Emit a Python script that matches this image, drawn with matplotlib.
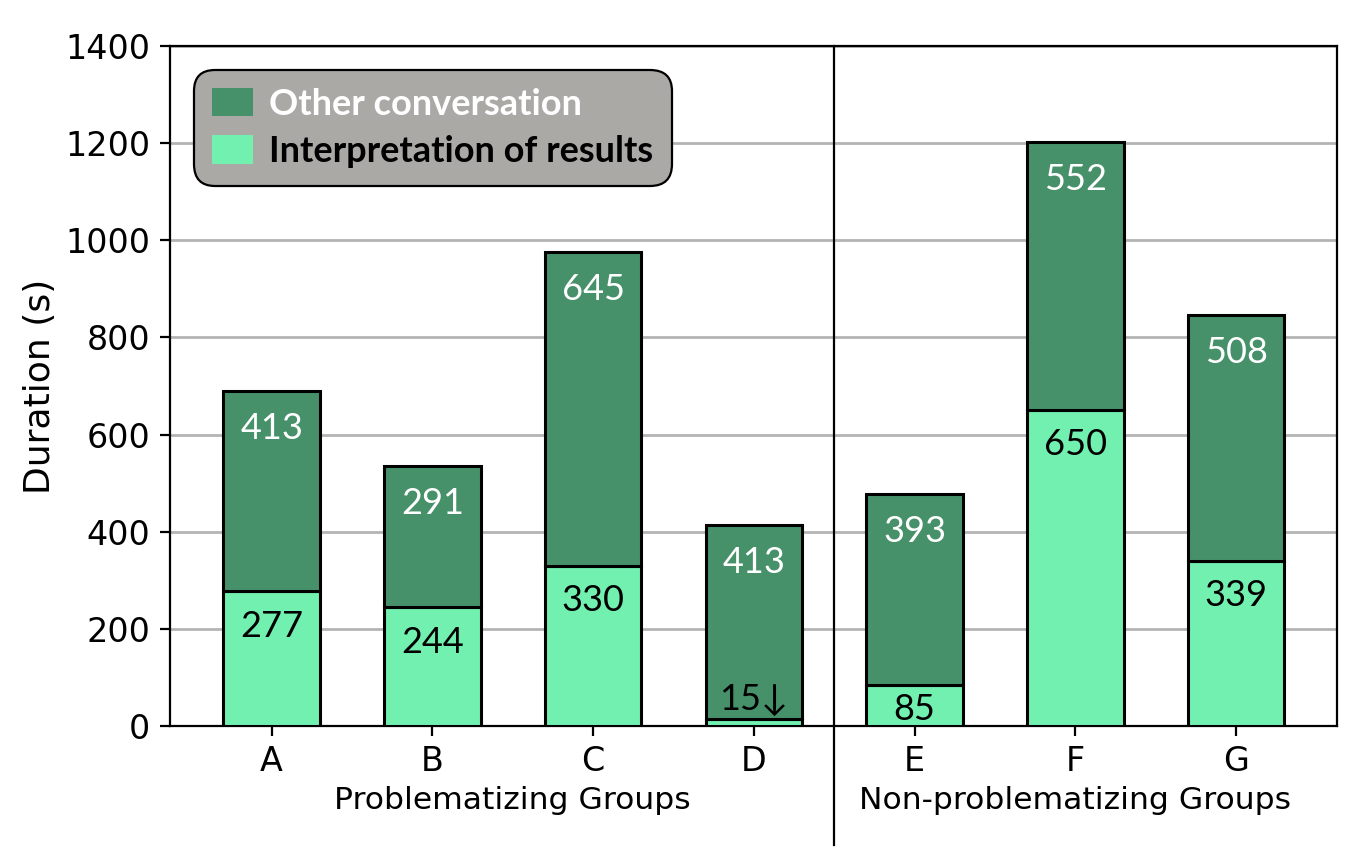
import matplotlib.pyplot as plt
from matplotlib.patches import Patch
from matplotlib.transforms import blended_transform_factory

# durations per group (seconds)
groups = ["A", "B", "C", "D", "E", "F", "G"]
interp = [277, 244, 330, 15, 85, 650, 339]
other = [413, 291, 645, 398, 393, 552, 508]
other_labels = ["413", "291", "645", "413", "393", "552", "508"]
interp_labels = ["277", "244", "330", "15\u2193", "85", "650", "339"]
group_names = ["Problematizing Groups", "Non-problematizing Groups"]

dark = "#469169"
light = "#72f0b0"
lblfont = ["Lato", "DejaVu Sans"]

plt.rcParams["font.size"] = 12

fig = plt.figure(figsize=(6.79, 4.26), dpi=200)
ax = fig.add_axes([0.125, 0.148, 0.8595, 0.798])

x = list(range(len(groups)))
ax.bar(x, interp, width=0.6, color=light, edgecolor="black", linewidth=1.1, zorder=3)
ax.bar(x, other, width=0.6, bottom=interp, color=dark, edgecolor="black", linewidth=1.1, zorder=3)

for i in x:
    top = interp[i] + other[i]
    ax.annotate(other_labels[i], (i, top), xytext=(0, -13.5), textcoords="offset points",
                ha="center", va="center", color="white", fontsize=13, family=lblfont, zorder=4)
    if interp[i] > 150:
        ax.annotate(interp_labels[i], (i, interp[i]), xytext=(0, -12.5), textcoords="offset points",
                    ha="center", va="center", color="black", fontsize=13, family=lblfont, zorder=4)
    elif interp[i] > 50:
        ax.text(i, interp[i] / 2 - 8, interp_labels[i], ha="center", va="center",
                color="black", fontsize=13, family=lblfont, zorder=4)
    else:
        ax.annotate(interp_labels[i], (i, interp[i]), xytext=(0, 7), textcoords="offset points",
                    ha="center", va="center", color="black", fontsize=13, family=lblfont, zorder=4)

ax.set_xlim(-0.634, 6.627)
ax.set_ylim(0, 1400)
ax.set_yticks(range(0, 1401, 200))
ax.set_xticks(x)
ax.set_xticklabels(groups)
ax.set_ylabel("Duration (s)", fontsize=13, labelpad=3)
ax.yaxis.grid(True, color="#b4b4b4", linewidth=1.0, zorder=0)
ax.set_axisbelow(True)

# divider between the two sets of groups
ax.plot([3.5, 3.5], [1400, -245], color="black", linewidth=0.8, clip_on=False, zorder=5)

trans = blended_transform_factory(ax.transData, ax.transAxes)
ax.text(1.5, -0.109, group_names[0], transform=trans, ha="center", va="center", fontsize=11.3)
ax.text(5.0, -0.109, group_names[1], transform=trans, ha="center", va="center", fontsize=11.3)

handles = [Patch(facecolor=dark, edgecolor="none"), Patch(facecolor=light, edgecolor="none")]
leg = ax.legend(handles, ["Other conversation", "Interpretation of results"],
                loc="upper left", bbox_to_anchor=(0.005, 0.992), fancybox=True,
                framealpha=1, facecolor="#aba9a6", edgecolor="black",
                handlelength=1.15, handleheight=0.85, handletextpad=0.45,
                labelspacing=0.4, borderpad=0.5,
                prop={"family": lblfont, "weight": "bold", "size": 13})
leg.get_frame().set_boxstyle("round", pad=0, rounding_size=0.6)
leg.get_frame().set_linewidth(0.8)
leg.get_texts()[0].set_color("white")
leg.get_texts()[1].set_color("black")
leg.set_zorder(6)

fig.savefig("out.png", dpi=200)
